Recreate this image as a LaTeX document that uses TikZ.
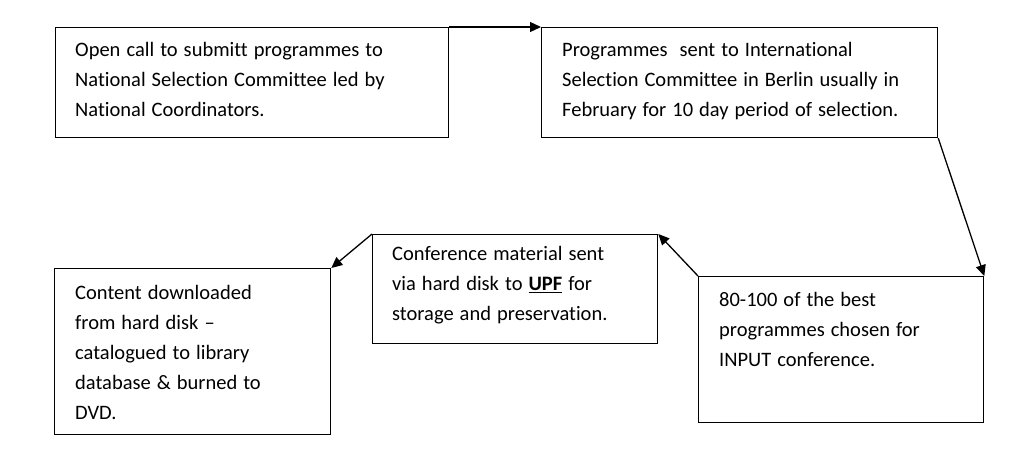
\documentclass[tikz,border=0pt]{standalone}
\usepackage{fontspec}
\setmainfont{Carlito}[Ligatures=NoCommon,WordSpace=1.3]
\usetikzlibrary{arrows.meta}
\begin{document}
\begin{tikzpicture}[x=1pt,y=-1pt,
  box/.style={draw,line width=1.3pt,anchor=north west,inner sep=0pt},
  txt/.style={anchor=north west,align=left,inner sep=0pt,font=\fontsize{20.5}{30}\selectfont},
  arr/.style={line width=1.3pt,-{Triangle[length=11pt,width=10pt]}}]
\useasboundingbox (0,0) rectangle (1020,456);
\node[box,minimum width=393pt,minimum height=110pt] (b1) at (55,27) {};
\node[box,minimum width=396pt,minimum height=110pt] (b2) at (541,27) {};
\node[box,minimum width=285pt,minimum height=146pt] (b3) at (698,276) {};
\node[box,minimum width=285pt,minimum height=109pt] (b4) at (372,234) {};
\node[box,minimum width=276pt,minimum height=166pt] (b5) at (54,268) {};
\node[txt] (t1) at (75,42) {Open call to submitt programmes to\\National Selection Committee led by\\National Coordinators.};
\node[txt] (t2) at (562,42) {Programmes\ \ sent to International\\Selection Committee in Berlin usually in\\February for 10 day period of selection.};
\node[txt] (t3) at (719,292) {80-100 of the best\\programmes chosen for\\INPUT conference.};
\node[txt] (t4) at (392,246) {Conference material sent\\via hard disk to \underline{\textbf{UPF}} for\\storage and preservation.};
\node[txt] (t5) at (75,285) {Content downloaded\\from hard disk --\\catalogued to library\\database \& burned to\\DVD.};
\draw[arr] (b1.north east) -- (b2.north west);
\draw[arr] (b2.south east) -- (b3.north east);
\draw[arr] (b3.north west) -- (b4.north east);
\draw[arr] (b4.north west) -- (b5.north east);
\end{tikzpicture}
\end{document}
